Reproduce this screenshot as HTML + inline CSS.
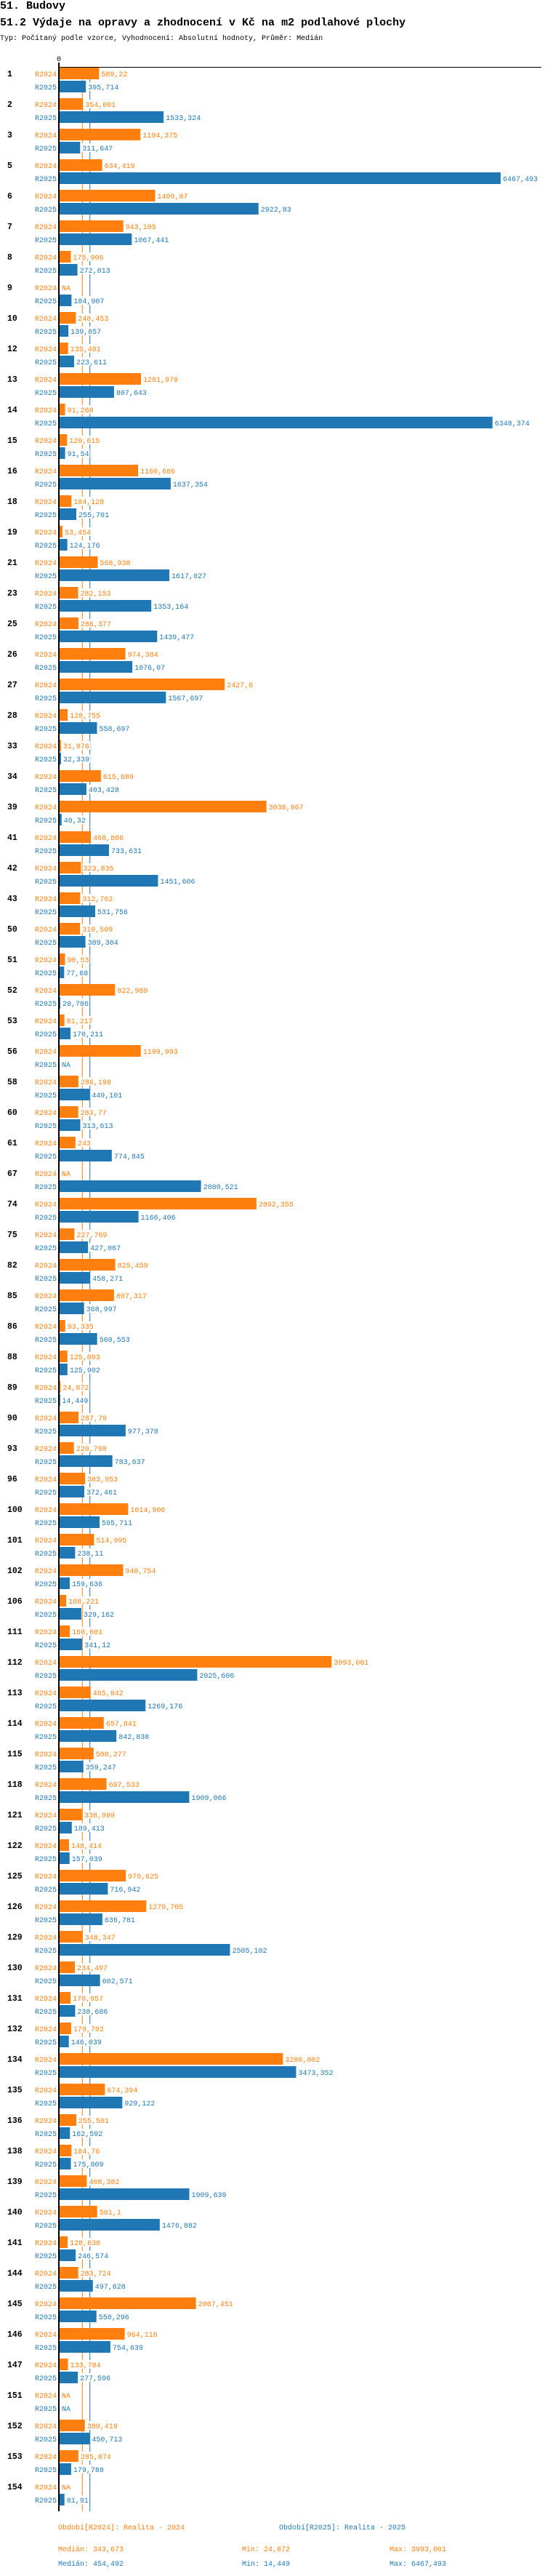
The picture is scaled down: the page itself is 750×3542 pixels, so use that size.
<!DOCTYPE html>
<html><head><meta charset="utf-8">
<style>
html,body{margin:0;padding:0;background:#fff;width:750px;height:3542px;overflow:hidden}
svg{display:block}
text{font-family:"Liberation Mono",monospace}
</style></head>
<body>
<svg id="chart" width="750" height="3542" viewBox="0 0 750 3542" xmlns="http://www.w3.org/2000/svg">
<text x="0" y="12" font-size="15" font-weight="bold">51. Budovy</text>
<text x="0" y="35" font-size="15" font-weight="bold">51.2 Výdaje na opravy a zhodnocení v Kč na m2 podlahové plochy</text>
<text x="0" y="55" font-size="10">Typ: Počítaný podle vzorce, Vyhodnocení: Absolutní hodnoty, Průměr: Medián</text>
<g id="plot"></g>
</svg>
<script>
const categories = ["1","2","3","5","6","7","8","9","10","12","13","14","15","16","18","19","21","23","25","26","27","28","33","34","39","41","42","43","50","51","52","53","56","58","60","61","67","74","75","82","85","86","88","89","90","93","96","100","101","102","106","111","112","113","114","115","118","121","122","125","126","129","130","131","132","134","135","136","138","139","140","141","144","145","146","147","151","152","153","154"];
const values2024 = [589.22,354.001,1194.375,634.419,1409.87,943.105,175.906,null,248.453,135.401,1201.978,91.268,120.615,1160.686,184.128,53.454,568.938,282.153,286.377,974.384,2427.6,128.755,31.076,615.689,3038.867,468.866,323.835,312.762,310.509,90.53,822.989,81.217,1199.093,286.198,283.77,243,null,2892.355,227.769,825.459,807.317,93.335,125.003,24.872,287.79,220.798,383.953,1014.906,514.995,940.754,108.221,160.601,3993.001,465.842,657.841,508.277,697.533,338.999,148.414,979.625,1279.705,348.347,234.497,170.957,179.702,3280.802,674.394,255.501,184.76,408.382,561.1,128.638,283.724,2007.451,964.116,133.784,null,380.419,285.874,null];
const values2025 = [395.714,1533.324,311.647,6467.493,2922.83,1067.441,272.013,184.907,139.857,223.611,807.643,6348.374,91.54,1637.354,255.701,124.176,1617.027,1353.164,1439.477,1076.07,1567.697,558.697,32.339,403.428,40.32,733.631,1451.606,531.756,389.304,77.68,20.786,170.211,null,449.101,313.613,774.845,2080.521,1166.406,427.067,458.271,368.997,560.553,125.902,14.449,977.378,783.637,372.461,595.711,238.11,159.636,329.162,341.12,2025.606,1269.176,842.838,359.247,1909.066,189.413,157.039,716.942,636.781,2505.102,602.571,238.686,146.039,3473.352,929.122,162.592,175.809,1909.639,1476.882,246.574,497.628,550.296,754.639,277.596,null,450.713,179.788,81.91];
const medians = [343.673, 454.492];
const mins = [24.872, 14.449];
const maxs = [3993.001, 6467.493];
const seriesNames = ["R2024","R2025"];
const legendNames = ["Období[R2024]: Realita - 2024","Období[R2025]: Realita - 2025"];

const NS="http://www.w3.org/2000/svg";
const COLORS=["#ff7f0e","#1f77b4"];
const X0=81, SCALE=0.0940, TOP=93, PITCH=42, BH=16;
const xPos=v=>X0+v*SCALE;
const yPos=i=>TOP+i*PITCH;
const fmt=v=>String(v).replace('.',',');
const plot=document.getElementById('plot');
function mk(tag,attrs,parent){const e=document.createElementNS(NS,tag);for(const k in attrs)e.setAttribute(k,attrs[k]);(parent||plot).appendChild(e);return e;}
const bottom=yPos(categories.length-1)+2*BH+10;

// median lines (drawn first, labels cover them)
medians.forEach((m,s)=>{
  const l=mk('line',{x1:xPos(m),x2:xPos(m),y1:92,y2:bottom,stroke:COLORS[s],'stroke-width':1});
  
  
});

categories.forEach((c,i)=>{
  const y=yPos(i);
  const g=mk('g',{});
  
  
  const rl=mk('text',{x:10,y:y+12,'font-size':11.5,'font-weight':'bold',fill:'#000'},g);
  rl.textContent=c;
  
  
  [values2024,values2025].forEach((arr,s)=>{
    const v=arr[i], by=y+s*(BH+2);
    const sl=mk('text',{x:78,y:by+12,'font-size':10,'text-anchor':'end',fill:COLORS[s]},g);
    sl.textContent=seriesNames[s];
    
    
    let lx=85, txt='NA';
    if(v!==null){
      const b=mk('rect',{x:82,y:by,width:Math.max(0.8,xPos(v)-82),height:BH,fill:COLORS[s]},g);
      
      
      lx=Math.max(xPos(v),82)+3; txt=fmt(v);
    }
    mk('rect',{x:lx-1,y:by+2,width:txt.length*6+2,height:12,fill:'#fff'},g);
    const vl=mk('text',{x:lx,y:by+12,'font-size':10,fill:COLORS[s]},g);
    vl.textContent=txt;
    
    
  });
});

// axes
const ax=mk('line',{x1:81,x2:81,y1:86,y2:bottom,stroke:'#000','stroke-width':2});


const hx=mk('line',{x1:80,x2:745,y1:92.5,y2:92.5,stroke:'#000','stroke-width':1});


const zl=mk('text',{x:81,y:84,'font-size':10,'text-anchor':'middle'});
zl.textContent='0';



// legend and stats
const legX=[80,384];
legendNames.forEach((n,s)=>{
  const t=mk('text',{x:legX[s],y:3478,'font-size':10,fill:COLORS[s]});
  t.textContent=n;
  
  
});
[0,1].forEach(s=>{
  const y=3508+s*20;
  const a=mk('text',{x:80,y:y,'font-size':10,fill:COLORS[s]});
  a.textContent='Medián: '+fmt(medians[s]);
  
  
  const b=mk('text',{x:333,y:y,'font-size':10,fill:COLORS[s]});
  b.textContent='Min: '+fmt(mins[s]);
  
  
  const c=mk('text',{x:536,y:y,'font-size':10,fill:COLORS[s]});
  c.textContent='Max: '+fmt(maxs[s]);
  
  
});
</script>
</body></html>
